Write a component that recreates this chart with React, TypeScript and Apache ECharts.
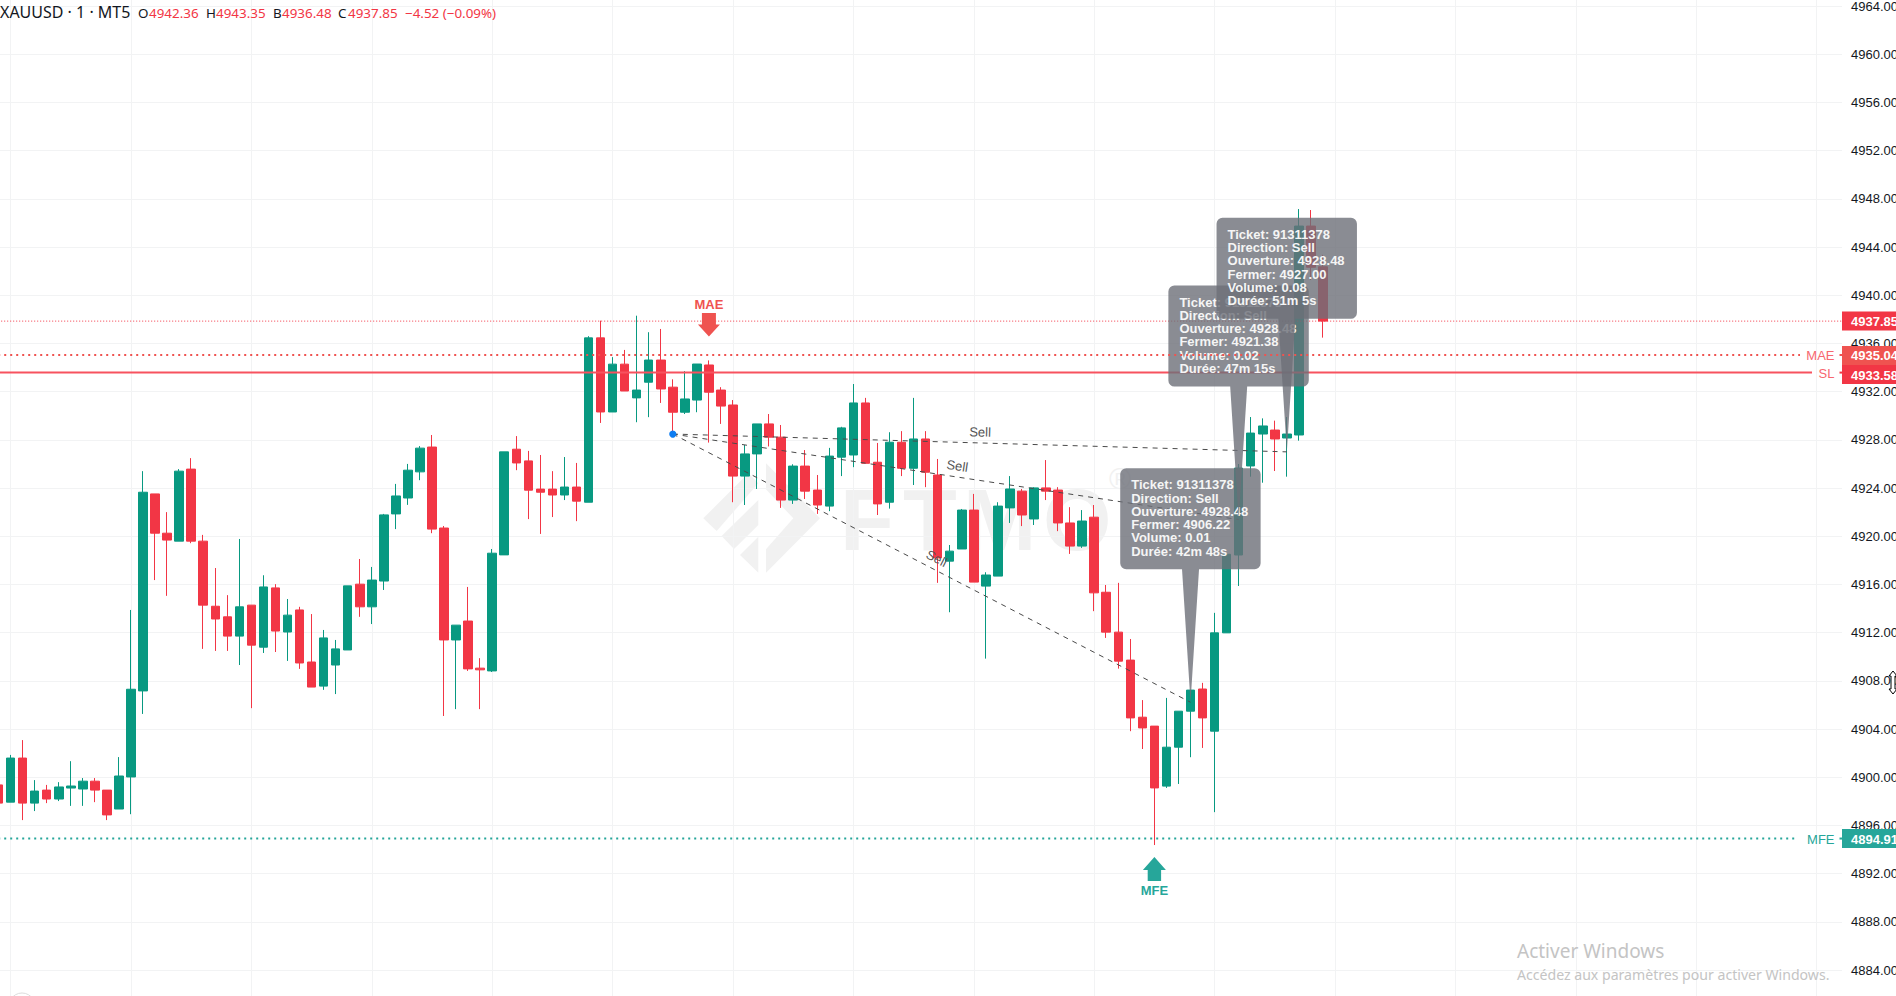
import React, { useEffect, useRef } from "react";
import * as echarts from "echarts";

// ---- chart data ----
const firstCandle = -1;
const opens = [
  4899.36, 4897.93, 4901.59, 4897.85, 4898.93, 4898.19, 4899.10, 4899.02, 4899.67, 4898.93,
  4897.36, 4900.02, 4907.16, 4923.51, 4920.25, 4919.59, 4925.57, 4919.59, 4914.19, 4913.31,
  4911.71, 4914.28, 4910.79, 4915.71, 4912.05, 4913.88, 4909.56, 4907.56, 4909.31, 4910.56,
  4916.02, 4914.14, 4916.28, 4921.85, 4923.17, 4925.34, 4927.40, 4920.68, 4911.39, 4912.96,
  4909.05, 4908.82, 4918.45, 4927.22, 4926.25, 4923.91, 4923.91, 4923.42, 4924.08, 4922.82,
  4936.46, 4930.31, 4934.28, 4931.48, 4932.78, 4934.62, 4932.37, 4930.29, 4931.30, 4934.21,
  4932.13, 4930.89, 4924.99, 4926.83, 4929.32, 4928.22, 4923.00, 4925.82, 4923.83, 4922.50,
  4926.56, 4926.74, 4931.06, 4926.14, 4922.82, 4927.80, 4925.64, 4928.07, 4925.08, 4917.93,
  4918.94, 4922.17, 4915.86, 4916.69, 4922.35, 4923.74, 4921.43, 4924.01, 4923.83, 4921.10,
  4919.18, 4921.58, 4915.35, 4912.04, 4909.72, 4904.98, 4904.24, 4899.26, 4902.49, 4905.48,
  4907.32, 4903.82, 4911.98, 4918.44, 4925.83, 4928.48, 4928.81, 4928.15, 4928.40, 4945.74,
  4942.36,
];
const closes = [
  4897.85, 4901.59, 4897.85, 4898.85, 4898.19, 4899.19, 4899.27, 4899.67, 4898.93, 4896.87,
  4900.10, 4907.30, 4923.65, 4920.25, 4919.68, 4925.40, 4919.59, 4914.28, 4913.13, 4911.71,
  4914.14, 4910.96, 4915.79, 4912.13, 4913.45, 4909.48, 4907.48, 4911.56, 4910.65, 4915.88,
  4914.14, 4916.36, 4921.77, 4923.34, 4925.48, 4927.31, 4920.59, 4911.39, 4912.62, 4908.99,
  4908.91, 4918.59, 4927.00, 4926.08, 4923.82, 4923.65, 4923.42, 4924.08, 4922.91, 4936.46,
  4930.31, 4934.28, 4932.05, 4932.13, 4934.62, 4932.22, 4930.29, 4931.39, 4934.29, 4931.95,
  4930.80, 4924.99, 4926.83, 4929.32, 4928.22, 4923.00, 4925.82, 4923.74, 4922.59, 4926.65,
  4928.99, 4931.06, 4926.05, 4922.68, 4927.80, 4925.64, 4928.07, 4925.31, 4918.20, 4918.76,
  4922.17, 4916.19, 4916.78, 4922.50, 4923.92, 4921.76, 4924.01, 4923.74, 4921.10, 4919.18,
  4921.26, 4915.30, 4912.04, 4909.63, 4904.92, 4904.09, 4899.11, 4902.49, 4905.48, 4907.23,
  4904.92, 4911.98, 4918.50, 4925.66, 4928.56, 4929.15, 4928.07, 4928.48, 4945.74, 4942.32,
  4937.85,
];
const lows = [
  4897.59, 4897.93, 4896.44, 4897.19, 4897.85, 4898.02, 4897.62, 4897.62, 4897.93, 4896.44,
  4897.36, 4896.93, 4905.25, 4916.36, 4915.05, 4919.59, 4919.42, 4910.65, 4910.48, 4910.48,
  4909.31, 4905.73, 4910.31, 4910.39, 4909.65, 4908.99, 4907.48, 4907.25, 4906.90, 4910.56,
  4913.31, 4912.71, 4915.54, 4920.59, 4922.60, 4924.65, 4920.25, 4905.08, 4905.65, 4908.82,
  4905.65, 4908.73, 4918.45, 4925.48, 4921.42, 4920.19, 4921.59, 4923.00, 4921.25, 4922.82,
  4929.40, 4930.31, 4932.05, 4929.46, 4929.88, 4931.06, 4928.51, 4930.14, 4930.29, 4927.77,
  4929.32, 4922.82, 4922.59, 4923.92, 4927.45, 4922.35, 4922.68, 4923.09, 4921.85, 4922.08,
  4924.99, 4925.73, 4926.05, 4921.76, 4922.29, 4924.99, 4924.25, 4924.07, 4916.13, 4913.69,
  4918.94, 4916.19, 4909.84, 4916.69, 4921.10, 4920.84, 4920.93, 4923.00, 4920.42, 4918.53,
  4919.03, 4913.78, 4911.56, 4909.01, 4903.82, 4902.34, 4894.37, 4899.11, 4899.44, 4901.66,
  4902.43, 4897.10, 4911.98, 4915.87, 4924.94, 4924.44, 4925.41, 4924.94, 4927.93, 4941.26,
  4936.48,
];
const highs = [
  4899.59, 4901.85, 4903.08, 4899.76, 4899.36, 4899.59, 4901.33, 4899.93, 4899.93, 4898.93,
  4901.67, 4913.88, 4925.40, 4923.51, 4922.00, 4925.57, 4926.48, 4920.11, 4917.36, 4915.11,
  4919.77, 4914.28, 4916.76, 4916.02, 4914.79, 4914.14, 4913.54, 4912.22, 4911.39, 4915.88,
  4918.11, 4917.45, 4921.85, 4924.34, 4926.00, 4927.48, 4928.40, 4920.85, 4912.62, 4915.79,
  4909.88, 4918.94, 4927.00, 4928.31, 4927.08, 4926.74, 4925.40, 4926.57, 4926.08, 4936.60,
  4937.89, 4934.86, 4935.46, 4938.30, 4936.93, 4937.20, 4933.02, 4933.70, 4934.29, 4934.59,
  4932.37, 4931.30, 4927.57, 4929.32, 4930.14, 4929.23, 4925.97, 4927.15, 4925.08, 4927.33,
  4929.08, 4932.63, 4931.48, 4927.74, 4928.63, 4928.72, 4931.48, 4928.72, 4926.41, 4919.27,
  4922.26, 4923.51, 4917.01, 4922.82, 4924.99, 4923.92, 4924.07, 4926.32, 4924.07, 4922.41,
  4922.17, 4922.59, 4915.95, 4916.13, 4911.47, 4906.40, 4904.24, 4906.58, 4905.48, 4907.23,
  4907.83, 4913.64, 4918.50, 4925.99, 4929.89, 4929.78, 4929.59, 4929.89, 4947.15, 4947.07,
  4943.35,
];

const lastPrice = 4937.85;
const maePrice = 4935.04;
const slPrice = 4933.58;
const mfePrice = 4894.91;

const tagPrices = [lastPrice, maePrice, slPrice, mfePrice];
const tagNames = ["", "MAE", "SL", "MFE"];

const entryCandle = 55;
const entryPrice = 4928.48;
// Drawn in this order, so the last one lies on top.
const exitCandles = [98, 102, 106];
const exitPrices = [4906.22, 4921.38, 4927.0];
const exitVolumes = ["0.01", "0.02", "0.08"];
const exitDurations = ["42m 48s", "47m 15s", "51m 5s"];
const exitCloses = ["4906.22", "4921.38", "4927.00"];
const ticket = "91311378";

const maeCandle = 58;
const mfeCandle = 95;

// ---- scales ----
const X0 = 10.6;
const STEP = 12.04;
const xAt = (px: number) => (px - X0) / STEP;
const X_MIN = -10;
const X_MAX = xAt(1842);

// ---- colours ----
const UP = "#089981";
const DOWN = "#F23645";
const MAE = "#EF5350";
const SL = "#F7525F";
const MFE = "#26A69A";
const GRID = "#F2F3F4";
const WM = "#F1F1F1";
const FONT = '"Liberation Sans"';
const HEAD = '"Noto Sans"';

function levelLine(price: number, endPx: number, color: string, width: number, dash: any, z: number) {
  return {
    type: "line",
    z,
    silent: true,
    symbol: "none",
    data: [
      [X_MIN, price],
      [xAt(endPx), price],
    ],
    lineStyle: { color, width, type: dash },
  };
}

function bubblePoints(x: number, y: number) {
  const l = x - 70.3;
  const r = x + 70.1;
  const t = y - 234;
  const b = y - 133;
  const rad = 6;
  const pts: number[][] = [];
  const corner = (cx: number, cy: number, from: number) => {
    for (let k = 0; k <= 4; k++) {
      const a = from + (k / 4) * (Math.PI / 2);
      pts.push([cx + rad * Math.cos(a), cy + rad * Math.sin(a)]);
    }
  };
  corner(l + rad, t + rad, Math.PI);
  corner(r - rad, t + rad, -Math.PI / 2);
  corner(r - rad, b - rad, 0);
  pts.push([x + 8.5, b], [x, y], [x - 8.5, b]);
  corner(l + rad, b - rad, Math.PI / 2);
  return pts;
}

const wmLogo = [
  [[40, 205], [175, 70], [205, 100], [80, 243]],
  [[95, 258], [205, 150], [205, 225], [132, 297]],
  [[150, 315], [205, 260], [205, 368]],
  [[228, 40], [390, 205], [228, 368], [228, 298], [310, 205], [228, 118]],
];
const wmLetters: [string, number][] = [
  ["F", 840],
  ["T", 903],
  ["M", 963],
  ["O", 1043],
];

const headerTexts: [string, number, string][] = [
  ["O", 138, "#131722"],
  ["4942.36", 149, DOWN],
  ["H", 206, "#131722"],
  ["4943.35", 216, DOWN],
  ["B", 273, "#131722"],
  ["4936.48", 282, DOWN],
  ["C", 338, "#131722"],
  ["4937.85", 348, DOWN],
  ["\u22124.52 (\u22120.09%)", 405, DOWN],
];

export default function App() {
  const ref = useRef<HTMLDivElement | null>(null);
  useEffect(() => {
    const chart = echarts.init(ref.current!, null, { renderer: "svg" });
    const candleData = opens.map((o, i) => [firstCandle + i, o, closes[i], lows[i], highs[i]]);

    const graphic: any[] = [
      ...wmLogo.map((pts) => ({
        type: "polygon",
        z: 0,
        silent: true,
        shape: { points: pts.map((p) => [690 + p[0] / 3, 450 + p[1] / 3]) },
        style: { fill: WM },
      })),
      ...wmLetters.map(([t, x]) => ({
        type: "text",
        z: 0,
        silent: true,
        x,
        y: 519,
        style: { text: t, fill: WM, fontFamily: FONT, fontWeight: "bold", fontSize: 88, verticalAlign: "middle" },
      })),
      {
        type: "text",
        z: 0,
        silent: true,
        x: 1109,
        y: 478,
        style: { text: "\u00AE", fill: WM, fontFamily: FONT, fontSize: 30, verticalAlign: "middle" },
      },
      {
        type: "text",
        z: 100,
        silent: true,
        x: 0,
        y: 12,
        style: { text: "XAUUSD \u00B7 1 \u00B7 MT5", fill: "#131722", fontFamily: HEAD, fontSize: 16, verticalAlign: "middle" },
      },
      ...headerTexts.map(([t, x, c]) => ({
        type: "text",
        z: 100,
        silent: true,
        x,
        y: 13,
        style: { text: t, fill: c, fontFamily: HEAD, fontSize: 13.4, verticalAlign: "middle" },
      })),
      {
        type: "text",
        z: 100,
        silent: true,
        x: 1517,
        y: 951,
        style: { text: "Activer Windows", fill: "#C4C4C4", fontFamily: HEAD, fontSize: 19, verticalAlign: "middle" },
      },
      {
        type: "text",
        z: 100,
        silent: true,
        x: 1517,
        y: 974,
        style: {
          text: "Acc\u00E9dez aux param\u00E8tres pour activer Windows.",
          fill: "#C4C4C4",
          fontFamily: HEAD,
          fontSize: 14.1,
          verticalAlign: "middle",
        },
      },
      {
        type: "circle",
        z: 100,
        silent: true,
        shape: { cx: 22, cy: 1006, r: 13 },
        style: { fill: "none", stroke: "#DDDDDD", lineWidth: 1 },
      },
      {
        type: "polygon",
        z: 100,
        silent: true,
        shape: {
          points: [
            [1893, 671], [1897, 676], [1895, 676], [1895, 689], [1897, 689],
            [1893, 694], [1889, 689], [1891, 689], [1891, 676], [1889, 676],
          ],
        },
        style: { fill: "#FFFFFF", stroke: "#000000", lineWidth: 1 },
      },
    ];

    chart.setOption({
      animation: false,
      backgroundColor: "#FFFFFF",
      graphic,
      grid: {
        outerBoundsMode: "none",
        containLabel: false,
        left: X0 + X_MIN * STEP,
        top: 0,
        width: (X_MAX - X_MIN) * STEP,
        height: 1018.2,
      },
      xAxis: {
        type: "value",
        min: X_MIN,
        max: X_MAX,
        interval: 10,
        axisLine: { show: false },
        axisTick: { show: false },
        axisLabel: { show: false },
        splitLine: { show: true, showMinLine: false, showMaxLine: false, lineStyle: { color: GRID, width: 1 } },
      },
      yAxis: {
        type: "value",
        position: "right",
        min: 4880,
        max: 4964.5,
        interval: 4,
        axisLine: { show: false },
        axisTick: { show: false },
        axisLabel: {
          margin: 9,
          showMaxLabel: false,
          showMinLabel: false,
          color: "#131722",
          fontFamily: FONT,
          fontSize: 13,
          formatter: (v: number) => v.toFixed(2),
        },
        splitLine: { show: true, showMaxLine: false, lineStyle: { color: GRID, width: 1 } },
      },
      series: [
        {
          type: "candlestick",
          z: 2,
          silent: true,
          barWidth: 9,
          data: candleData,
          itemStyle: { color: UP, color0: DOWN, borderColor: UP, borderColor0: DOWN, borderWidth: 1 },
        },
        levelLine(lastPrice, 1842, DOWN, 1, [1, 2], 3),
        levelLine(slPrice, 1812, SL, 2, "solid", 3),
        // trade lines, with their labels and the entry dot
        {
          type: "custom",
          z: 4,
          silent: true,
          clip: false,
          data: exitCandles.map((c, i) => [c, exitPrices[i]]),
          encode: { x: 0, y: 1 },
          renderItem: (_p: any, api: any) => {
            const a = api.coord([entryCandle, entryPrice]);
            const b = api.coord([api.value(0), api.value(1)]);
            const ang = Math.atan2(b[1] - a[1], b[0] - a[0]);
            const mx = (a[0] + b[0]) / 2 + Math.sin(ang) * 11;
            const my = (a[1] + b[1]) / 2 - Math.cos(ang) * 11;
            return {
              type: "group",
              children: [
                {
                  type: "line",
                  shape: { x1: a[0], y1: a[1], x2: b[0], y2: b[1] },
                  style: { stroke: "#4A4A4A", lineWidth: 1, lineDash: [5, 5] },
                },
                {
                  type: "text",
                  x: mx,
                  y: my,
                  rotation: -ang,
                  style: {
                    text: "Sell",
                    fill: "#555555",
                    fontFamily: FONT,
                    fontSize: 13,
                    align: "center",
                    verticalAlign: "middle",
                  },
                },
              ],
            };
          },
        },
        {
          type: "custom",
          z: 4.5,
          silent: true,
          clip: false,
          data: [[entryCandle, entryPrice]],
          encode: { x: 0, y: 1 },
          renderItem: (_p: any, api: any) => {
            const a = api.coord([api.value(0), api.value(1)]);
            return { type: "circle", shape: { cx: a[0], cy: a[1], r: 3.6 }, style: { fill: "#0D7DF2" } };
          },
        },
        // note bubbles
        {
          type: "custom",
          z: 5,
          silent: true,
          clip: false,
          data: exitCandles.map((c, i) => [c, exitPrices[i]]),
          encode: { x: 0, y: 1 },
          renderItem: (p: any, api: any) => {
            const i = p.dataIndex;
            const a = api.coord([api.value(0), api.value(1)]);
            const rows = [
              `Ticket: ${ticket}`,
              "Direction: Sell",
              `Ouverture: ${entryPrice.toFixed(2)}`,
              `Fermer: ${exitCloses[i]}`,
              `Volume: ${exitVolumes[i]}`,
              `Dur\u00E9e: ${exitDurations[i]}`,
            ];
            return {
              type: "group",
              children: [
                {
                  type: "polygon",
                  shape: { points: bubblePoints(a[0], a[1]) },
                  style: { fill: "rgba(109,111,120,0.8)" },
                },
                ...rows.map((t, k) => ({
                  type: "text",
                  x: a[0] - 59.3,
                  y: a[1] - 217.5 + k * 13.3,
                  style: {
                    text: t,
                    fill: "#F5F5F5",
                    fontFamily: FONT,
                    fontWeight: "bold",
                    fontSize: 13,
                    verticalAlign: "middle",
                  },
                })),
              ],
            };
          },
        },
        levelLine(maePrice, 1800, MAE, 2, [2, 4], 6),
        levelLine(mfePrice, 1798, MFE, 2, [2, 4], 6),
        // MAE arrow
        {
          type: "custom",
          z: 6,
          silent: true,
          clip: false,
          data: [[maeCandle, highs[maeCandle - firstCandle]]],
          encode: { x: 0, y: 1 },
          renderItem: (_p: any, api: any) => {
            const a = api.coord([api.value(0), api.value(1)]);
            const x = a[0];
            const y = a[1];
            return {
              type: "group",
              children: [
                {
                  type: "polygon",
                  shape: {
                    points: [
                      [x - 7, y - 47.5], [x + 7, y - 47.5], [x + 7, y - 36], [x + 11, y - 36],
                      [x, y - 24], [x - 11, y - 36], [x - 7, y - 36],
                    ],
                  },
                  style: { fill: MAE },
                },
                {
                  type: "text",
                  x,
                  y: y - 56,
                  style: { text: "MAE", fill: MAE, fontFamily: FONT, fontWeight: "bold", fontSize: 13, align: "center", verticalAlign: "middle" },
                },
              ],
            };
          },
        },
        // MFE arrow
        {
          type: "custom",
          z: 6,
          silent: true,
          clip: false,
          data: [[mfeCandle, lows[mfeCandle - firstCandle]]],
          encode: { x: 0, y: 1 },
          renderItem: (_p: any, api: any) => {
            const a = api.coord([api.value(0), api.value(1)]);
            const x = a[0];
            const y = a[1];
            return {
              type: "group",
              children: [
                {
                  type: "polygon",
                  shape: {
                    points: [
                      [x, y + 12], [x + 11.5, y + 25], [x + 6.7, y + 25], [x + 6.7, y + 36],
                      [x - 6.7, y + 36], [x - 6.7, y + 25], [x - 11.5, y + 25],
                    ],
                  },
                  style: { fill: MFE },
                },
                {
                  type: "text",
                  x,
                  y: y + 45.5,
                  style: { text: "MFE", fill: MFE, fontFamily: FONT, fontWeight: "bold", fontSize: 13, align: "center", verticalAlign: "middle" },
                },
              ],
            };
          },
        },
        // price tags on the axis
        {
          type: "custom",
          z: 7,
          silent: true,
          clip: false,
          data: tagPrices.map((v) => [X_MAX, v]),
          encode: { x: 0, y: 1 },
          renderItem: (p: any, api: any) => {
            const i = p.dataIndex;
            const a = api.coord([api.value(0), api.value(1)]);
            const x = a[0];
            const y = a[1];
            const tagColor = [DOWN, MAE, DOWN, MFE][i];
            const nameColor = [DOWN, "#F7676F", "#F7676F", MFE][i];
            const shift = [0, 0.5, 2, 0][i];
            const kids: any[] = [
              { type: "rect", shape: { x, y: y - 9.5 + shift, width: 54, height: 19 }, style: { fill: tagColor } },
              {
                type: "text",
                x: x + 9,
                y: y + shift + 0.5,
                style: {
                  text: tagPrices[i].toFixed(2),
                  fill: "#FFFFFF",
                  fontFamily: FONT,
                  fontWeight: "bold",
                  fontSize: 13,
                  verticalAlign: "middle",
                },
              },
            ];
            if (tagNames[i]) {
              kids.push(
                {
                  type: "text",
                  x: x - 7.5,
                  y: y + 0.5,
                  style: {
                    text: tagNames[i],
                    fill: nameColor,
                    fontFamily: FONT,
                    fontSize: 13,
                    align: "right",
                    verticalAlign: "middle",
                  },
                },
                {
                  type: "line",
                  shape: { x1: x - 2.5, y1: y, x2: x, y2: y },
                  style: { stroke: tagColor, lineWidth: 2 },
                },
              );
            }
            return { type: "group", children: kids };
          },
        },
      ],
    });
    return () => chart.dispose();
  }, []);
  return (
    <div
      ref={ref}
      style={{ position: "fixed", left: 0, top: 0, width: 1896, height: 996, overflow: "hidden" }}
    />
  );
}
